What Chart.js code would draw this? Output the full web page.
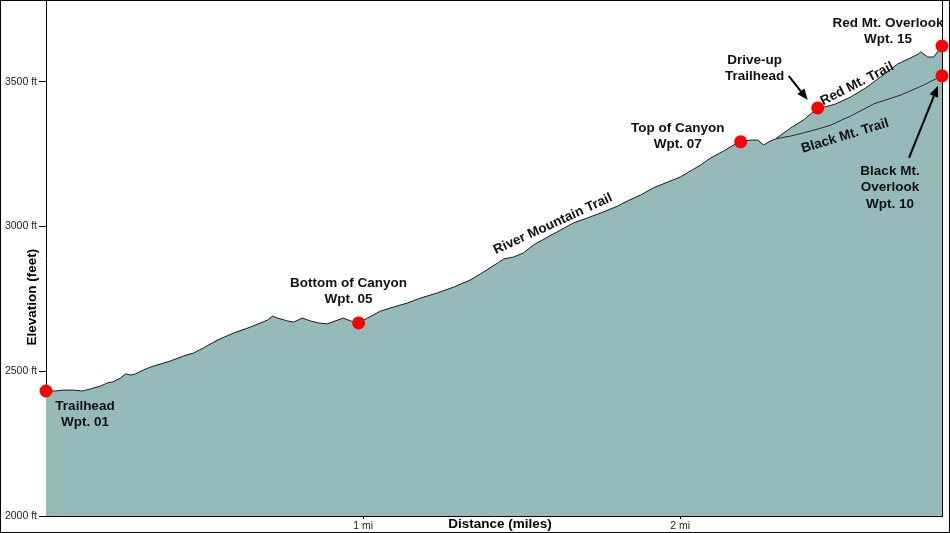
<!DOCTYPE html>
<html><head><meta charset="utf-8">
<script src="https://cdn.jsdelivr.net/npm/chart.js@4.4.1/dist/chart.umd.min.js"></script>
<style>html,body{margin:0;padding:0;background:#fff}canvas{display:block}</style>
</head><body>
<canvas id="c" width="950" height="533"></canvas>
<script>
// ---- data (miles, feet) ----
const distMain = [0,0.030,0.055,0.087,0.115,0.140,0.172,0.194,0.210,0.235,0.251,0.267,0.282,0.308,0.330,0.361,0.393,0.434,0.465,0.497,0.541,0.591,0.645,0.699,0.715,0.730,0.762,0.781,0.809,0.834,0.860,0.888,0.920,0.938,0.961,0.986,1.014,1.055,1.096,1.140,1.181,1.235,1.286,1.339,1.380,1.424,1.443,1.475,1.506,1.538,1.582,1.623,1.664,1.708,1.759,1.803,1.835,1.875,1.916,1.961,2.002,2.043,2.065,2.096,2.137,2.169,2.191,2.222,2.245,2.263,2.285,2.301,2.349,2.390,2.434,2.459,2.491,2.538,2.585,2.632,2.686,2.727,2.752,2.759,2.781,2.800,2.826];
const elevMain = [2432,2432,2435,2435,2432,2439,2449,2460,2463,2477,2491,2487,2491,2505,2515,2525,2536,2553,2563,2581,2608,2632,2653,2677,2691,2684,2674,2670,2684,2674,2667,2664,2677,2684,2674,2667,2684,2708,2722,2736,2753,2771,2791,2816,2843,2874,2888,2895,2909,2937,2964,2988,3013,3030,3051,3071,3089,3109,3134,3154,3172,3199,3213,3237,3261,3282,3293,3299,3299,3282,3296,3303,3341,3369,3410,3414,3424,3448,3479,3517,3562,3583,3597,3604,3586,3586,3624];
const distBlack = [2.301,2.349,2.390,2.434,2.476,2.517,2.538,2.611,2.697,2.770,2.800,2.826];
const elevBlack = [3303,3313,3324,3337,3351,3372,3382,3424,3455,3490,3507,3521];

const wptDist = [0, 0.986, 2.191, 2.434, 2.826, 2.826];
const wptElev = [2432, 2667, 3293, 3410, 3624, 3521];
const wptLabels = [['Trailhead','Wpt. 01'],['Bottom of Canyon','Wpt. 05'],['Top of Canyon','Wpt. 07'],['Drive-up','Trailhead'],['Red Mt. Overlook','Wpt. 15'],['Black Mt.','Overlook','Wpt. 10']];

const trailNames = ['River Mountain Trail','Red Mt. Trail','Black Mt. Trail'];
const trailDist = [1.599, 2.558, 2.520];
const trailElev = [3009, 3493, 3313];

const elevTicks = [2000, 2500, 3000, 3500];
const distTicks = [1, 2];
const elevMin = 2000, elevMax = 3783, distMin = 0, distMax = 2.826;
const yTitle = 'Elevation (feet)', xTitle = 'Distance (miles)';

// ---- styling / layout ----
const FAM = "'Liberation Sans', Arial, sans-serif";
const wptOffsets = [[39,15],[-10,-40],[-63,-14],[-63,-48],[-54,-23],[-52,95]];
const trailAngles = [-24.6, -27, -17];
const arrows = [ {w:3, from:[-29,-32], to:[-10,-8]}, {w:5, from:[-33,82], to:[-4,10]} ];

const toXY = (d, e) => d.map((v, i) => ({x: v, y: e[i]}));

function arrow(ctx, x1, y1, x2, y2){
  const a = Math.atan2(y2-y1, x2-x1), L = 11, W = 4.5;
  const bx = x2 - L*Math.cos(a), by = y2 - L*Math.sin(a);
  ctx.beginPath(); ctx.moveTo(x1,y1); ctx.lineTo(bx,by); ctx.lineWidth = 2; ctx.strokeStyle = '#000'; ctx.stroke();
  ctx.beginPath(); ctx.moveTo(x2,y2);
  ctx.lineTo(bx + W*Math.sin(a), by - W*Math.cos(a));
  ctx.lineTo(bx - W*Math.sin(a), by + W*Math.cos(a));
  ctx.closePath(); ctx.fillStyle = '#000'; ctx.fill();
}

const annot = {
  id: 'annot',
  beforeDatasetsDraw(chart){
    const {ctx, chartArea:a} = chart;
    ctx.save(); ctx.strokeStyle = '#000'; ctx.lineWidth = 1;
    const rx = Math.round(a.right) + 0.5;
    ctx.beginPath(); ctx.moveTo(rx, a.top); ctx.lineTo(rx, a.bottom); ctx.stroke();
    ctx.restore();
  },
  afterDatasetsDraw(chart){
    const {ctx, chartArea:a, scales:{x, y}} = chart;
    ctx.save();
    ctx.fillStyle = '#111';
    ctx.font = `bold 13.5px ${FAM}`;
    ctx.textAlign = 'center'; ctx.textBaseline = 'middle';
    wptLabels.forEach((lines, i) => {
      const px = x.getPixelForValue(wptDist[i]) + wptOffsets[i][0];
      const py = y.getPixelForValue(wptElev[i]) + wptOffsets[i][1];
      lines.forEach((t, k) => ctx.fillText(t, px, py + k*16.5));
    });
    trailNames.forEach((t, i) => {
      ctx.save();
      ctx.translate(x.getPixelForValue(trailDist[i]), y.getPixelForValue(trailElev[i]));
      ctx.rotate(trailAngles[i] * Math.PI/180);
      ctx.fillText(t, 0, 0);
      ctx.restore();
    });
    arrows.forEach(ar => {
      const bx = x.getPixelForValue(wptDist[ar.w]), by = y.getPixelForValue(wptElev[ar.w]);
      arrow(ctx, bx+ar.from[0], by+ar.from[1], bx+ar.to[0], by+ar.to[1]);
    });
    // axis titles
    ctx.fillStyle = '#000';
    ctx.fillText(xTitle, a.left + (a.right - a.left)/2 + 6, a.bottom + 8.5);
    ctx.save();
    ctx.translate(32.5, a.top + (a.bottom - a.top)*0.576);
    ctx.rotate(-Math.PI/2);
    ctx.fillText(yTitle, 0, 0);
    ctx.restore();
    ctx.restore();
  },
  afterDraw(chart){
    const ctx = chart.ctx;
    ctx.save(); ctx.strokeStyle = '#000'; ctx.lineWidth = 1;
    ctx.strokeRect(0.5, 0.5, chart.width - 1, chart.height - 1);
    ctx.restore();
  }
};

new Chart(document.getElementById('c'), {
  type: 'line',
  data: {
    datasets: [
      { type:'scatter', data: toXY(wptDist, wptElev), pointRadius: 6.5, pointHoverRadius: 6.5,
        backgroundColor: '#ff0000', borderWidth: 0, clip: false, order: 0 },
      { data: toXY(distBlack, elevBlack), borderColor: '#2a2a2a', borderWidth: 1, pointRadius: 0,
        fill: false, tension: 0, order: 1 },
      { data: toXY(distMain, elevMain), borderColor: '#1a1a1a', borderWidth: 1, pointRadius: 0,
        fill: 'start', backgroundColor: '#96b9b9', tension: 0, order: 2 }
    ]
  },
  options: {
    responsive: false, animation: false, devicePixelRatio: 1,
    layout: { autoPadding: false, padding: { left: 0, top: 0, right: 8, bottom: 0 } },
    plugins: { legend: { display: false }, tooltip: { enabled: false } },
    scales: {
      x: {
        type: 'linear', min: distMin, max: distMax,
        afterBuildTicks: s => { s.ticks = distTicks.map(v => ({value: v})); },
        afterFit: s => { s.height = 17; s.paddingLeft = 0; s.paddingRight = 0; },
        ticks: { callback: v => v + ' mi', maxRotation: 0, autoSkip: false, color: '#222',
                 font: { size: 10.5, family: FAM }, padding: 1 },
        grid: { drawOnChartArea: false, drawTicks: true, tickLength: 3, color: '#000' },
        border: { display: true, color: '#000', width: 1 },
        title: { display: false }
      },
      y: {
        type: 'linear', min: elevMin, max: elevMax,
        afterBuildTicks: s => { s.ticks = elevTicks.map(v => ({value: v})); },
        afterFit: s => { s.width = 46; s.paddingTop = 0; s.paddingBottom = 0; },
        ticks: { callback: v => v + ' ft', color: '#222', font: { size: 10.5, family: FAM }, padding: 2 },
        grid: { drawOnChartArea: false, drawTicks: true, tickLength: 7, color: '#000' },
        border: { display: true, color: '#000', width: 1 },
        title: { display: false }
      }
    }
  },
  plugins: [annot]
});
</script>
</body></html>
